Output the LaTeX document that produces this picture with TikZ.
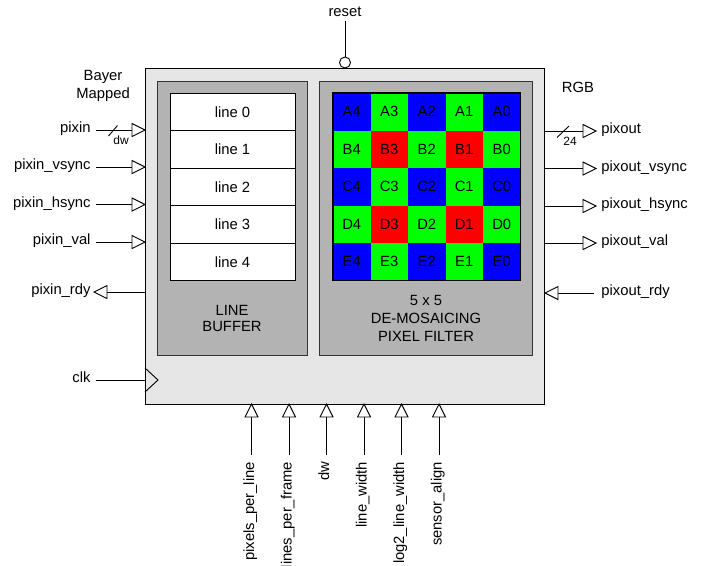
\documentclass[tikz,border=0pt]{standalone}
\usepackage{fontspec}
\setmainfont{Liberation Sans}
\usetikzlibrary{calc}
\definecolor{boxgray}{HTML}{E6E6E6}
\definecolor{panelgray}{HTML}{B3B3B3}
\definecolor{cc0}{HTML}{0000FF}
\definecolor{cc1}{HTML}{00FF00}
\definecolor{cc2}{HTML}{FF0000}
\begin{document}
\begin{tikzpicture}[x=1pt,y=-1pt,line width=0.9pt,
  font=\fontsize{14.8}{16}\selectfont,
  tri/.style={draw,fill=white,line width=0.9pt,line join=miter},
  lbl/.style={inner sep=0pt},
  small/.style={inner sep=0pt,font=\fontsize{12}{13}\selectfont},
  panel/.style={draw=black!80,fill=panelgray,line width=0.9pt}]
\useasboundingbox (0,0) rectangle (701,565);
% main box
\draw[fill=boxgray] (145,68) rectangle (544,404);
% panels
\draw[panel] (157,81) rectangle (307,355);
\draw[panel] (319,81) rectangle (532,355);
% line buffer
\foreach \i in {0,...,4} {
  \draw[fill=white] (170,{93+37.5*\i}) rectangle (295,{130.5+37.5*\i});
  \node[lbl] (line\i) at (232.5,{111.75+37.5*\i}) {line \i};
}
\node[lbl,align=center] (lbtxt) at (232,318) {LINE\\BUFFER};
% grid
\foreach \r/\R in {0/A,1/B,2/C,3/D,4/E} {
  \foreach \c in {0,...,4} {
    \pgfmathtruncatemacro\n{4-\c}
    \pgfmathtruncatemacro\p{mod(\r,2)+mod(\c,2)}
    \fill[cc\p] ({333+37.5*\c},{93+37.5*\r}) rectangle ({370.5+37.5*\c},{130.5+37.5*\r});
    \node[lbl] (g\R\n) at ({351.75+37.5*\c},{111.75+37.5*\r}) {\R\n};
  }
}
\draw[line width=1.3pt] (333,93) rectangle (520.5,280.5);
\node[lbl,align=center] (filtxt) at (426,318) {5 x 5\\[2pt]DE-MOSAICING\\[2pt]PIXEL FILTER};
% header texts
\node[lbl,align=center] (bayer) at (103,86) {Bayer\\[2pt]Mapped};
\node[lbl] (rgb) at (578,87) {RGB};
% left inputs
\foreach \yy/\nm/\tx in {130/pi/pixin,167/pv/pixin\_vsync,204.5/ph/pixin\_hsync,242/pval/pixin\_val} {
  \coordinate (\nm s) at (96,\yy);
  \coordinate (\nm b) at (132,\yy);
  \coordinate (\nm t) at (145,\yy);
  \node[lbl,anchor=mid east] (\nm l) at (91,\yy) {\tx};
  \draw (\nm s) -- (\nm b);
  \draw[tri] ($(\nm b)+(0,-6.5)$) -- (\nm t) -- ($(\nm b)+(0,6.5)$) -- cycle;
}
\draw (108.5,136) -- (117.5,125.5);
\node[small] (dwl) at (121,140) {dw};
% pixin_rdy
\coordinate (prs) at (145,292);
\coordinate (prb) at (107,292);
\coordinate (prt) at (94,292);
\node[lbl,anchor=mid east] (prl) at (91,292) {pixin\_rdy};
\draw (prs) -- (prb);
\draw[tri] ($(prb)+(0,-6.5)$) -- (prt) -- ($(prb)+(0,6.5)$) -- cycle;
% clk
\coordinate (clks) at (96,380);
\coordinate (clkt) at (145,380);
\node[lbl,anchor=mid east] (clkl) at (91,380) {clk};
\draw (clks) -- (clkt);
\draw[line join=miter] (145,368) -- (158,380) -- (145,392);
% right outputs
\foreach \yy/\nm/\tx in {131/po/pixout,168.5/pov/pixout\_vsync,206/poh/pixout\_hsync,243/poval/pixout\_val} {
  \coordinate (\nm s) at (544,\yy);
  \coordinate (\nm b) at (583,\yy);
  \coordinate (\nm t) at (596,\yy);
  \node[lbl,anchor=mid west] (\nm l) at (601,\yy) {\tx};
  \draw (\nm s) -- (\nm b);
  \draw[tri] ($(\nm b)+(0,-6.5)$) -- (\nm t) -- ($(\nm b)+(0,6.5)$) -- cycle;
}
\draw (557,137.5) -- (569,126);
\node[small] (w24) at (570,141.5) {24};
% pixout_rdy
\coordinate (pors) at (594,293);
\coordinate (porb) at (558,293);
\coordinate (port) at (545,293);
\node[lbl,anchor=mid west] (porl) at (601,293) {pixout\_rdy};
\draw (pors) -- (porb);
\draw[tri] ($(porb)+(0,-6.5)$) -- (port) -- ($(porb)+(0,6.5)$) -- cycle;
% reset
\node[lbl] (resetl) at (345,12) {reset};
\coordinate (rs) at (345,21);
\node[draw,circle,fill=white,minimum size=11pt,inner sep=0pt,line width=0.9pt] (rc) at (345,62.5) {};
\draw (rs) -- (rc.north);
% bottom params
\foreach \xx/\nm/\tx in {251.5/ppl/pixels\_per\_line,289/lpf/lines\_per\_frame,326.5/bdw/dw,364/lw/line\_width,401.5/llw/log2\_line\_width,439/sa/sensor\_align} {
  \coordinate (\nm t) at (\xx,404);
  \coordinate (\nm b) at (\xx,417);
  \coordinate (\nm e) at (\xx,455);
  \node[lbl,rotate=90,anchor=mid east] (\nm l) at (\xx,461.5) {\tx};
  \draw (\nm b) -- (\nm e);
  \draw[tri] ($(\nm b)+(-6.5,0)$) -- (\nm t) -- ($(\nm b)+(6.5,0)$) -- cycle;
}
\end{tikzpicture}
\end{document}
